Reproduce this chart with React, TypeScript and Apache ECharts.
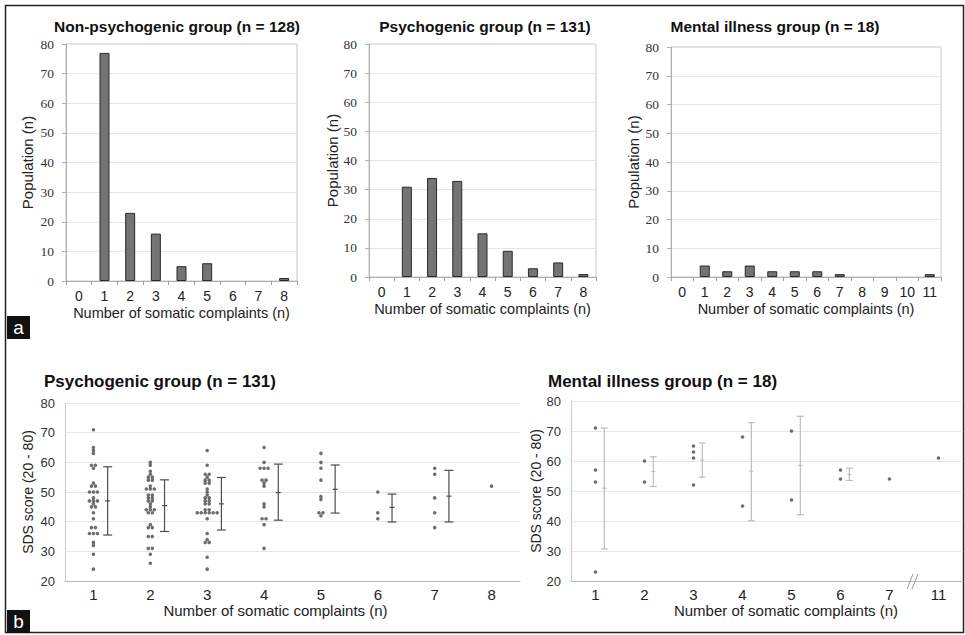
import React, { useEffect, useRef } from 'react';
import * as echarts from 'echarts';

// ---------- Data ----------
const nonPsyCats = ['0', '1', '2', '3', '4', '5', '6', '7', '8'];
const nonPsyCounts = [0, 77, 23, 16, 5, 6, 0, 0, 1];

const psyCats = ['0', '1', '2', '3', '4', '5', '6', '7', '8'];
const psyCounts = [0, 31, 34, 33, 15, 9, 3, 5, 1];

const mentalCats = ['0', '1', '2', '3', '4', '5', '6', '7', '8', '9', '10', '11'];
const mentalCounts = [0, 4, 2, 4, 2, 2, 2, 1, 0, 0, 0, 1];

const sdsPsyCats = ['1', '2', '3', '4', '5', '6', '7', '8'];
const sdsPsyScores: number[][] = [
  [71, 65, 64, 63, 59, 59, 58, 53, 52, 52, 50, 50, 50, 48, 47, 47, 47, 46, 45, 45, 43, 41, 38, 38, 36, 36, 36, 33, 32, 29, 24],
  [60, 59, 57, 56, 55, 55, 54, 54, 52, 51, 51, 51, 49, 49, 48, 48, 47, 47, 46, 45, 44, 44, 44, 43, 43, 39, 38, 38, 35, 35, 31, 31, 29, 26],
  [64, 59, 56, 56, 55, 54, 54, 53, 53, 51, 50, 49, 48, 48, 47, 47, 46, 46, 44, 44, 43, 43, 43, 43, 43, 43, 41, 36, 34, 33, 33, 28, 24],
  [65, 60, 58, 58, 58, 54, 54, 53, 52, 46, 45, 41, 41, 39, 31],
  [63, 60, 58, 54, 48.5, 47.5, 43, 43, 42],
  [50, 43, 41],
  [58, 56, 48, 43, 38],
  [52],
];
const sdsPsyMean = [47, 45.4, 46, 49.8, 50.9, 44.8, 48.6];
const sdsPsyLow = [35.5, 36.7, 37.2, 40.5, 42.9, 39.9, 39.9];
const sdsPsyHigh = [58.5, 54.1, 54.9, 59.4, 59.1, 49.3, 57.3];

const sdsMentalCats = ['1', '2', '3', '4', '5', '6', '7', '11'];
const sdsMentalScores: number[][] = [
  [71, 57, 53, 23],
  [60, 53],
  [65, 63, 61, 52],
  [68, 45],
  [70, 47],
  [57, 54],
  [54],
  [61],
];
const sdsMentalMean = [50.9, 56.5, 60.3, 56.6, 58.5, 55.5];
const sdsMentalLow = [30.7, 51.5, 54.6, 40.1, 42.1, 53.5];
const sdsMentalHigh = [71, 61.4, 66, 72.8, 74.9, 57.6];

// ---------- Helpers ----------
const SANS = 'Liberation Sans, Arial, sans-serif';
const SERIF = 'Liberation Serif, Times New Roman, serif';

function dotData(groups: number[][], step: number): number[][] {
  const out: number[][] = [];
  groups.forEach((vals, i) => {
    const counts: Record<string, number> = {};
    vals.forEach((v) => { counts[String(v)] = (counts[String(v)] || 0) + 1; });
    const seen: Record<string, number> = {};
    vals.forEach((v) => {
      const k = String(v);
      const n = counts[k];
      const j = seen[k] || 0;
      seen[k] = j + 1;
      out.push([i + 1 + (j - (n - 1) / 2) * step, v]);
    });
  });
  return out;
}

function errData(mean: number[], low: number[], high: number[], offset: number): number[][] {
  return mean.map((m, i) => [i + 1 + offset, low[i], high[i], m]);
}

function barData(counts: number[]) {
  return counts.map((v) => (v === 0 ? { value: v, itemStyle: { borderWidth: 0, opacity: 0 } } : v));
}

const errRender = (color: string, cap: number, meanHalf: number) => (_p: any, api: any) => {
  const x = api.value(0);
  const top = api.coord([x, api.value(2)]);
  const bot = api.coord([x, api.value(1)]);
  const mid = api.coord([x, api.value(3)]);
  const st = { stroke: color, lineWidth: 1.2 };
  return {
    type: 'group',
    children: [
      { type: 'line', shape: { x1: top[0], y1: top[1], x2: bot[0], y2: bot[1] }, style: st },
      { type: 'line', shape: { x1: top[0] - cap, y1: top[1], x2: top[0] + cap, y2: top[1] }, style: st },
      { type: 'line', shape: { x1: bot[0] - cap, y1: bot[1], x2: bot[0] + cap, y2: bot[1] }, style: st },
      { type: 'line', shape: { x1: mid[0] - meanHalf, y1: mid[1], x2: mid[0] + meanHalf, y2: mid[1] }, style: st },
    ],
  };
};

function topXAxis(gridIndex: number, data: string[]) {
  return {
    type: 'category', gridIndex, data, boundaryGap: true,
    axisLine: { lineStyle: { color: '#b0b0b0' } },
    axisTick: { show: true, length: 4, interval: 0, lineStyle: { color: '#a0a0a0' } },
    axisLabel: { color: '#222', fontFamily: SANS, fontSize: 14, margin: 8, interval: 0 },
    name: 'Number of somatic complaints (n)', nameLocation: 'middle', nameGap: 24,
    nameTextStyle: { color: '#222', fontFamily: SANS, fontSize: 14.5 },
  };
}

function topYAxis(gridIndex: number, nameGap: number) {
  return {
    type: 'value', gridIndex, min: 0, max: 80, interval: 10,
    axisLine: { show: true, lineStyle: { color: '#b0b0b0' } },
    axisTick: { show: true, length: 4, lineStyle: { color: '#b0b0b0' } },
    splitLine: { lineStyle: { color: '#e4e4e4' } },
    axisLabel: { color: '#333', fontFamily: SERIF, fontSize: 13.5, margin: 12 },
    name: 'Population (n)', nameLocation: 'middle', nameGap,
    nameTextStyle: { color: '#222', fontFamily: SANS, fontSize: 15 },
  };
}

function botYAxis(gridIndex: number, nameGap: number) {
  return {
    type: 'value', gridIndex, min: 20, max: 80, interval: 10,
    axisLine: { show: true, lineStyle: { color: '#c8c8c8' } },
    axisTick: { show: false },
    splitLine: { lineStyle: { color: '#e6e6e6' } },
    axisLabel: { color: '#333', fontFamily: SANS, fontSize: 13, margin: 10 },
    name: 'SDS score (20 - 80)', nameLocation: 'middle', nameGap,
    nameTextStyle: { color: '#222', fontFamily: SANS, fontSize: 14 },
  };
}

function botXAxis(gridIndex: number, data: string[], padding: number[]) {
  return {
    type: 'category', gridIndex, data, boundaryGap: true,
    axisLine: { lineStyle: { color: '#b8b8b8' } },
    axisTick: { show: false },
    axisLabel: { color: '#222', fontFamily: SANS, fontSize: 15, margin: 6, interval: 0 },
    name: 'Number of somatic complaints (n)', nameLocation: 'middle', nameGap: 22,
    nameTextStyle: { color: '#222', fontFamily: SANS, fontSize: 15, padding },
  };
}

function hiddenValueX(gridIndex: number) {
  return { type: 'value', gridIndex, min: 0.5, max: 8.5, show: false, splitLine: { show: false } };
}

const barStyle = { color: '#747474', borderColor: '#2a2a2a', borderWidth: 1 };

function titleText(text: string, x: number, y: number, align: string, size: number) {
  return {
    type: 'text', x, y, silent: true,
    style: { text, fontFamily: SANS, fontWeight: 'bold', fontSize: size, fill: '#111', align, verticalAlign: 'middle' },
  };
}

function panelTag(letter: string, x: number, y: number) {
  return {
    type: 'group', x, y, silent: true,
    children: [
      { type: 'rect', shape: { x: 0, y: 0, width: 23, height: 23 }, style: { fill: '#111' } },
      { type: 'text', x: 11.5, y: 11, style: { text: letter, fontFamily: SANS, fontSize: 19, fill: '#fff', align: 'center', verticalAlign: 'middle' } },
    ],
  };
}

const breakData = [[7.5, 20]];

const option: any = {
  animation: false,
  backgroundColor: '#fff',
  grid: [
    { left: 66, top: 44, width: 231, height: 237, show: true, borderColor: '#c8c8c8', borderWidth: 1 },
    { left: 369, top: 44, width: 227, height: 233, show: true, borderColor: '#c8c8c8', borderWidth: 1 },
    { left: 671, top: 47, width: 270, height: 230, show: true, borderColor: '#c8c8c8', borderWidth: 1 },
    { left: 65, top: 403, width: 455, height: 178 },
    { left: 571, top: 401, width: 392, height: 180 },
  ],
  xAxis: [
    topXAxis(0, nonPsyCats),
    topXAxis(1, psyCats),
    topXAxis(2, mentalCats),
    botXAxis(3, sdsPsyCats, [0, 34, 0, 0]),
    hiddenValueX(3),
    botXAxis(4, sdsMentalCats, [0, 0, 0, 38]),
    hiddenValueX(4),
  ],
  yAxis: [
    topYAxis(0, 31),
    topYAxis(1, 29),
    topYAxis(2, 30),
    botYAxis(3, 30),
    botYAxis(4, 26),
  ],
  series: [
    { type: 'bar', xAxisIndex: 0, yAxisIndex: 0, data: barData(nonPsyCounts), barWidth: 10, itemStyle: barStyle },
    { type: 'bar', xAxisIndex: 1, yAxisIndex: 1, data: barData(psyCounts), barWidth: 10, itemStyle: barStyle },
    { type: 'bar', xAxisIndex: 2, yAxisIndex: 2, data: barData(mentalCounts), barWidth: 10, itemStyle: barStyle },
    {
      type: 'scatter', xAxisIndex: 4, yAxisIndex: 3, data: dotData(sdsPsyScores, 0.07),
      symbol: 'circle', symbolSize: 3.6, itemStyle: { color: '#4a4a4a' },
    },
    {
      type: 'custom', xAxisIndex: 4, yAxisIndex: 3, data: errData(sdsPsyMean, sdsPsyLow, sdsPsyHigh, 0.25),
      encode: { x: 0, y: [1, 2, 3] }, renderItem: errRender('#4d4d4d', 4.5, 2.5), clip: false,
    },
    {
      type: 'scatter', xAxisIndex: 6, yAxisIndex: 4, data: dotData(sdsMentalScores, 0.07),
      symbol: 'circle', symbolSize: 3.6, itemStyle: { color: '#4a4a4a' },
    },
    {
      type: 'custom', xAxisIndex: 6, yAxisIndex: 4, data: errData(sdsMentalMean, sdsMentalLow, sdsMentalHigh, 0.18),
      encode: { x: 0, y: [1, 2, 3] }, renderItem: errRender('#bdbdbd', 3.5, 2), clip: false,
    },
    {
      type: 'custom', xAxisIndex: 6, yAxisIndex: 4, data: breakData, clip: false,
      encode: { x: 0, y: 1 },
      renderItem: (_p: any, api: any) => {
        const p = api.coord([api.value(0), api.value(1)]);
        const st = { stroke: '#999', lineWidth: 1 };
        return {
          type: 'group',
          children: [
            { type: 'line', shape: { x1: p[0] - 7, y1: p[1] + 8, x2: p[0] - 1, y2: p[1] - 7 }, style: st },
            { type: 'line', shape: { x1: p[0] - 2, y1: p[1] + 8, x2: p[0] + 4, y2: p[1] - 7 }, style: st },
          ],
        };
      },
    },
  ],
  graphic: [
    { type: 'rect', silent: true, shape: { x: 5.5, y: 5.5, width: 958, height: 627 }, style: { fill: 'none', stroke: '#222', lineWidth: 1.5 } },
    titleText('Non-psychogenic group (n = 128)', 177, 26, 'center', 15.5),
    titleText('Psychogenic group (n = 131)', 485, 26, 'center', 15.5),
    titleText('Mental illness group (n = 18)', 775, 26, 'center', 15.5),
    titleText('Psychogenic group (n = 131)', 44, 381, 'left', 17),
    titleText('Mental illness group (n = 18)', 548, 381, 'left', 17),
    panelTag('a', 7, 316),
    panelTag('b', 7, 610),
  ],
};

export default function App() {
  const ref = useRef<HTMLDivElement>(null);
  useEffect(() => {
    document.body.style.margin = '0';
    const chart = echarts.init(ref.current as HTMLDivElement, null, { renderer: 'svg' });
    chart.setOption(option);
    return () => chart.dispose();
  }, []);
  return <div ref={ref} style={{ width: 965, height: 635, background: '#fff' }} />;
}
